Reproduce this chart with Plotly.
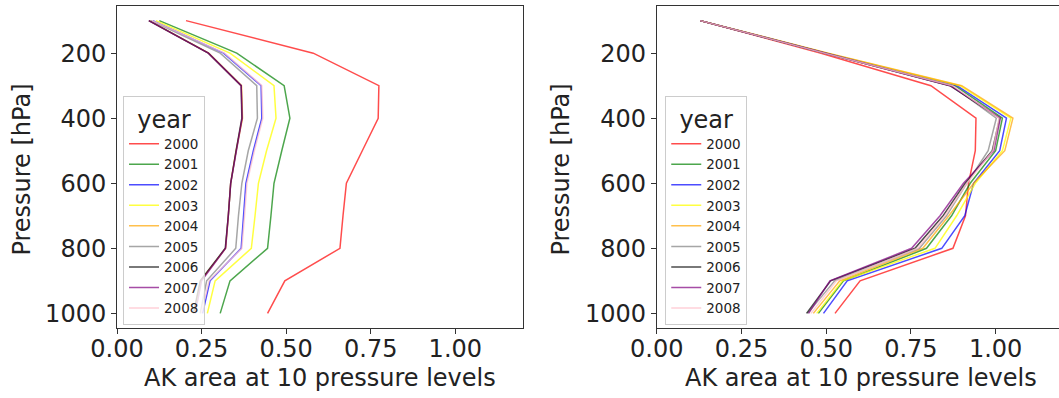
import plotly.graph_objects as go

levels = [100, 200, 300, 400, 500, 600, 700, 800, 900, 1000]
years = ["2000", "2001", "2002", "2003", "2004", "2005", "2006", "2007", "2008"]
colors = ["rgba(255,0,0,0.7)", "rgba(0,128,0,0.7)", "rgba(0,0,255,0.7)", "rgba(255,255,0,0.75)",
          "rgba(255,165,0,0.7)", "rgba(128,128,128,0.7)", "rgba(0,0,0,0.7)", "rgba(128,0,128,0.7)",
          "rgba(255,192,203,0.75)"]

# left panel
left_2000 = [0.204, 0.580, 0.774, 0.772, 0.725, 0.678, 0.668, 0.659, 0.496, 0.445]
left_2001 = [0.125, 0.354, 0.494, 0.511, 0.487, 0.464, 0.455, 0.445, 0.334, 0.305]
left_2002 = [0.106, 0.315, 0.426, 0.428, 0.403, 0.381, 0.374, 0.367, 0.275, 0.253]
left_2003 = [0.115, 0.334, 0.464, 0.470, 0.442, 0.418, 0.408, 0.397, 0.290, 0.267]
left_2004 = [0.095, 0.271, 0.368, 0.371, 0.352, 0.336, 0.329, 0.321, 0.247, 0.227]
left_2005 = [0.100, 0.305, 0.413, 0.415, 0.388, 0.369, 0.359, 0.351, 0.265, 0.246]
left_2006 = [0.094, 0.270, 0.367, 0.369, 0.352, 0.336, 0.329, 0.320, 0.246, 0.226]
left_2007 = [0.094, 0.270, 0.367, 0.370, 0.353, 0.336, 0.329, 0.321, 0.250, 0.231]
left_2008 = [0.104, 0.318, 0.428, 0.431, 0.406, 0.384, 0.377, 0.369, 0.272, 0.249]

# right panel
right_2000 = [0.128, 0.485, 0.809, 0.942, 0.940, 0.920, 0.911, 0.874, 0.600, 0.526]
right_2001 = [0.128, 0.498, 0.880, 1.020, 1.000, 0.925, 0.870, 0.796, 0.551, 0.477]
right_2002 = [0.128, 0.500, 0.886, 1.032, 1.012, 0.935, 0.909, 0.841, 0.562, 0.492]
right_2003 = [0.128, 0.503, 0.895, 1.045, 1.020, 0.940, 0.885, 0.821, 0.548, 0.472]
right_2004 = [0.128, 0.506, 0.900, 1.051, 1.027, 0.935, 0.862, 0.785, 0.540, 0.462]
right_2005 = [0.128, 0.495, 0.870, 1.002, 0.978, 0.915, 0.855, 0.775, 0.525, 0.445]
right_2006 = [0.128, 0.494, 0.865, 1.012, 0.990, 0.910, 0.845, 0.762, 0.513, 0.442]
right_2007 = [0.128, 0.494, 0.867, 1.014, 0.995, 0.905, 0.836, 0.752, 0.511, 0.448]
right_2008 = [0.128, 0.496, 0.873, 1.010, 0.992, 0.915, 0.850, 0.770, 0.530, 0.455]

left = [left_2000, left_2001, left_2002, left_2003, left_2004, left_2005, left_2006, left_2007, left_2008]
right = [right_2000, right_2001, right_2002, right_2003, right_2004, right_2005, right_2006, right_2007, right_2008]

xticks = [0.0, 0.25, 0.5, 0.75, 1.0]
yticks = [200, 400, 600, 800, 1000]

FONT = "DejaVu Sans"
TXT = "#222222"

fig = go.Figure()
for yr, c, vals in zip(years, colors, left):
    fig.add_trace(go.Scatter(x=vals, y=levels, mode="lines", name=yr,
                             line=dict(color=c, width=1.5), xaxis="x", yaxis="y",
                             legend="legend"))
for yr, c, vals in zip(years, colors, right):
    fig.add_trace(go.Scatter(x=vals, y=levels, mode="lines", name=yr,
                             line=dict(color=c, width=1.5), xaxis="x2", yaxis="y2",
                             legend="legend2"))

axis_common = dict(showgrid=False, zeroline=False, showline=True, linecolor="#333333",
                   linewidth=1, ticks="outside", ticklen=5, tickcolor="#333333",
                   tickfont=dict(family=FONT, size=24, color=TXT))

fig.update_layout(
    width=1059, height=398,
    margin=dict(l=117, r=0, t=6, b=70),
    plot_bgcolor="white", paper_bgcolor="white",
    font=dict(family=FONT, color=TXT),
    xaxis=dict(domain=[0, 0.431], range=[0, 1.2], tickvals=xticks, tickformat=".2f",
               mirror=True, anchor="y", ticklabelstandoff=-6, **axis_common),
    yaxis=dict(domain=[0, 1], range=[1045, 55], tickvals=yticks, mirror=True,
               anchor="x", **axis_common),
    xaxis2=dict(domain=[0.573, 1], range=[0, 1.187], tickvals=xticks, tickformat=".2f",
                mirror=True, anchor="y2", ticklabelstandoff=-6, **axis_common),
    yaxis2=dict(domain=[0, 1], range=[1045, 55], tickvals=yticks, mirror=False,
                anchor="x2", **axis_common),
    legend=dict(x=0.0064, y=0.72, xanchor="left", yanchor="top",
                bgcolor="rgba(255,255,255,0.8)", bordercolor="#cccccc", borderwidth=1,
                font=dict(family=FONT, size=13.5, color=TXT),
                title=dict(text="year", side="top center", font=dict(family=FONT, size=24, color=TXT))),
    legend2=dict(x=0.582, y=0.72, xanchor="left", yanchor="top",
                 bgcolor="rgba(255,255,255,0.8)", bordercolor="#cccccc", borderwidth=1,
                 font=dict(family=FONT, size=13.5, color=TXT),
                 title=dict(text="year", side="top center", font=dict(family=FONT, size=24, color=TXT))),
    annotations=[
        dict(text="Pressure [hPa]", xref="paper", yref="paper", x=-0.1008, y=0.492,
             textangle=-90, showarrow=False, font=dict(family=FONT, size=24, color=TXT),
             xanchor="center", yanchor="middle"),
        dict(text="Pressure [hPa]", xref="paper", yref="paper", x=0.4713, y=0.492,
             textangle=-90, showarrow=False, font=dict(family=FONT, size=24, color=TXT),
             xanchor="center", yanchor="middle"),
        dict(text="AK area at 10 pressure levels", xref="paper", yref="paper", x=0.2155, y=-0.155,
             showarrow=False, font=dict(family=FONT, size=24, color=TXT),
             xanchor="center", yanchor="middle"),
        dict(text="AK area at 10 pressure levels", xref="paper", yref="paper", x=0.790, y=-0.155,
             showarrow=False, font=dict(family=FONT, size=24, color=TXT),
             xanchor="center", yanchor="middle"),
    ],
)

fig.write_html("out.html", config={"displayModeBar": False},
               post_script="document.body.style.margin='0';document.body.style.overflow='hidden';")
